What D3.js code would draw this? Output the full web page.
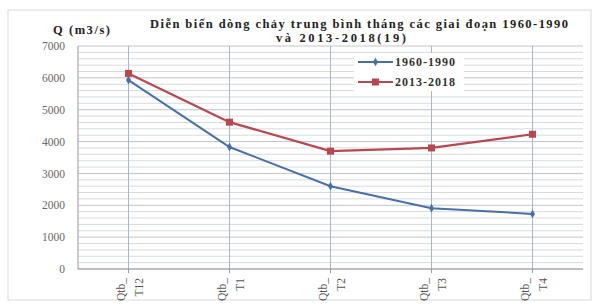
<!DOCTYPE html>
<html>
<head>
<meta charset="utf-8">
<script src="https://cdn.jsdelivr.net/npm/d3@7"></script>
<style>
  body { margin: 0; background: #fff; }
  svg text { font-family: "Liberation Serif", "Times New Roman", serif; }
</style>
</head>
<body>
<svg id="chart" width="595" height="304"></svg>
<script>
var categories = ["Qtb_T12", "Qtb_T1", "Qtb_T2", "Qtb_T3", "Qtb_T4"];
var series1960 = [5930, 3830, 2600, 1910, 1730];
var series2013 = [6140, 4610, 3700, 3800, 4230];
var yTicks = [0, 1000, 2000, 3000, 4000, 5000, 6000, 7000];
var seriesNames = ["1960-1990", "2013-2018"];

var margin = {top: 46, right: 12, bottom: 35, left: 78},
    width = 595 - margin.left - margin.right,
    height = 304 - margin.top - margin.bottom;

var svg = d3.select("#chart");

// outer frame
svg.append("rect")
    .attr("x", 8).attr("y", 10)
    .attr("width", 583).attr("height", 290)
    .attr("fill", "none")
    .attr("stroke", "#d9d9d9");

var g = svg.append("g")
    .attr("transform", "translate(" + margin.left + "," + margin.top + ")");

var x = d3.scaleBand()
    .domain(categories)
    .range([0, width]);

var y = d3.scaleLinear()
    .domain([0, 7000])
    .range([height, 0]);

// horizontal minor grid every 200
g.selectAll(".hgrid")
    .data(d3.range(0, 7001, 200))
    .enter().append("line")
    .attr("class", "hgrid")
    .attr("x1", 0).attr("x2", width)
    .attr("y1", function(d) { return y(d); })
    .attr("y2", function(d) { return y(d); })
    .attr("stroke", function(d) { return d % 1000 == 0 ? "#bfc4cc" : "#d6dae0"; })
    .attr("stroke-width", 1);

// vertical grid at categories
g.selectAll(".vgrid")
    .data(categories)
    .enter().append("line")
    .attr("class", "vgrid")
    .attr("x1", function(d) { return x(d) + x.bandwidth() / 2; })
    .attr("x2", function(d) { return x(d) + x.bandwidth() / 2; })
    .attr("y1", 0).attr("y2", height)
    .attr("stroke", "#a9b8c8");

// axes
g.append("line")
    .attr("x1", 0).attr("x2", 0)
    .attr("y1", 0).attr("y2", height)
    .attr("stroke", "#999");
g.append("line")
    .attr("x1", 0).attr("x2", width)
    .attr("y1", height).attr("y2", height)
    .attr("stroke", "#999");

var yAxis = g.append("g")
    .call(d3.axisLeft(y).tickValues(yTicks).tickFormat(d3.format("d")).tickSize(0).tickPadding(13));
yAxis.select(".domain").remove();
yAxis.selectAll("text")
    .attr("fill", "#666")
    .style("font-size", "11.5px");

// x ticks and rotated labels
var xt = g.selectAll(".xlab")
    .data(categories)
    .enter().append("g")
    .attr("class", "xlab")
    .attr("transform", function(d) {
        return "translate(" + (x(d) + x.bandwidth() / 2) + "," + height + ")";
    });
xt.append("line")
    .attr("y1", 0).attr("y2", 4)
    .attr("stroke", "#999");
xt.append("text")
    .attr("transform", "rotate(-90)")
    .attr("text-anchor", "end")
    .style("font-size", "11.5px")
    .attr("fill", "#555")
    .each(function(d) {
        var parts = d.split("_");
        d3.select(this).append("tspan")
            .attr("x", -9).attr("dy", -4).text(parts[0] + "_");
        d3.select(this).append("tspan")
            .attr("x", -9).attr("dy", 18).text(parts[1]);
    });

// lines
var line = d3.line()
    .x(function(d, i) { return x(categories[i]) + x.bandwidth() / 2; })
    .y(function(d) { return y(d); });

g.append("path")
    .datum(series1960)
    .attr("fill", "none")
    .attr("stroke", "#4a6fa5")
    .attr("stroke-width", 2)
    .attr("d", line);

g.append("path")
    .datum(series2013)
    .attr("fill", "none")
    .attr("stroke", "#b9474f")
    .attr("stroke-width", 2.2)
    .attr("d", line);

g.selectAll(".dia")
    .data(series1960)
    .enter().append("path")
    .attr("class", "dia")
    .attr("d", d3.symbol().type(d3.symbolDiamond).size(22))
    .attr("transform", function(d, i) {
        return "translate(" + (x(categories[i]) + x.bandwidth() / 2) + "," + y(d) + ")";
    })
    .attr("fill", "#4a6fa5");

g.selectAll(".sq")
    .data(series2013)
    .enter().append("rect")
    .attr("class", "sq")
    .attr("x", function(d, i) { return x(categories[i]) + x.bandwidth() / 2 - 3.5; })
    .attr("y", function(d) { return y(d) - 3.5; })
    .attr("width", 7).attr("height", 7)
    .attr("fill", "#b9474f");

// legend
var legend = svg.append("g").attr("transform", "translate(354,53)");
legend.append("rect")
    .attr("x", 0).attr("y", 0)
    .attr("width", 110).attr("height", 38)
    .attr("fill", "#fff");
legend.append("line")
    .attr("x1", 4).attr("x2", 39).attr("y1", 9).attr("y2", 9)
    .attr("stroke", "#4a6fa5").attr("stroke-width", 2);
legend.append("path")
    .attr("d", d3.symbol().type(d3.symbolDiamond).size(22))
    .attr("transform", "translate(21.5,9)")
    .attr("fill", "#4a6fa5");
legend.append("text")
    .attr("x", 41).attr("y", 13)
    .attr("textLength", 60)
    .style("font-size", "12px").style("font-weight", "bold")
    .attr("fill", "#333")
    .text(seriesNames[0]);
legend.append("line")
    .attr("x1", 4).attr("x2", 39).attr("y1", 29).attr("y2", 29)
    .attr("stroke", "#b9474f").attr("stroke-width", 2.2);
legend.append("rect")
    .attr("x", 18).attr("y", 25.5).attr("width", 7).attr("height", 7)
    .attr("fill", "#b9474f");
legend.append("text")
    .attr("x", 41).attr("y", 33)
    .attr("textLength", 60)
    .style("font-size", "12px").style("font-weight", "bold")
    .attr("fill", "#333")
    .text(seriesNames[1]);

// titles
svg.append("text")
    .attr("x", 53).attr("y", 34)
    .attr("textLength", 57)
    .style("font-size", "12.5px").style("font-weight", "bold")
    .attr("fill", "#222")
    .text("Q (m3/s)");

svg.append("text")
    .attr("x", 150).attr("y", 28)
    .attr("textLength", 418)
    .style("font-size", "12.5px").style("font-weight", "bold")
    .attr("fill", "#222")
    .text("Diễn biến dòng chảy trung bình tháng các giai đoạn 1960-1990");
svg.append("text")
    .attr("x", 276).attr("y", 42)
    .attr("textLength", 130)
    .style("font-size", "12.5px").style("font-weight", "bold")
    .attr("fill", "#222")
    .text("và 2013-2018(19)");
</script>
</body>
</html>
